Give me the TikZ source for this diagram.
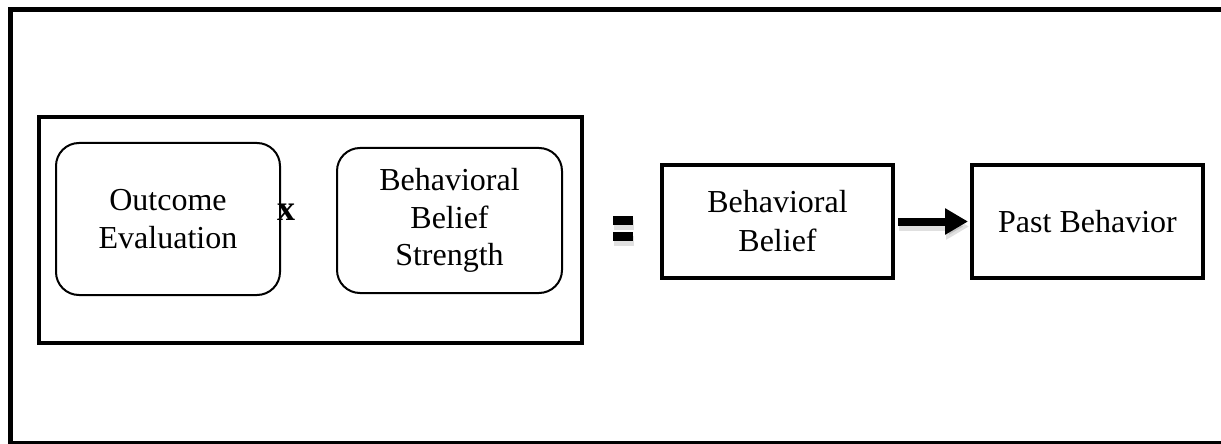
\documentclass[tikz,border=0pt]{standalone}
\usepackage{fontspec}
\setmainfont{Liberation Serif}
\usetikzlibrary{arrows.meta}
\begin{document}
\begin{tikzpicture}[x=0.5pt,y=-0.5pt,
  txt/.style={font=\fontsize{16}{18.8}\selectfont, align=center},
  rbox/.style={draw, line width=1pt, rounded corners=11.5pt, txt, inner sep=0pt},
  sbox/.style={draw, line width=2pt, txt, inner sep=0pt, minimum width=115.5pt, minimum height=56.5pt},
  shade/.style={fill=black, opacity=0.12},
  conn/.style={line width=4pt, -{Triangle[length=11.5pt,width=12.5pt]}},
]
\clip (0,0) rectangle (1221,444);
\fill[white] (0,0) rectangle (1221,444);
% outer frame
\draw[line width=2.5pt] (10.5,9.5) rectangle (1240,443.5);
% group box
\node[draw, line width=2pt, minimum width=271.5pt, minimum height=113pt, inner sep=0pt] (grp) at (310.5,230) {};
\node[rbox, minimum width=112pt, minimum height=76pt] (oe) at (168,219) {\raisebox{-2pt}{\parbox{100pt}{\centering Outcome\\Evaluation}}};
\node[rbox, minimum width=112.5pt, minimum height=72.5pt] (bbs) at (449.5,220.5) {\raisebox{-1.5pt}{\parbox{100pt}{\centering Behavioral\\Belief\\Strength}}};
\node[font=\fontsize{18}{18}\selectfont\bfseries, inner sep=0pt] (times) at (286,212.5) {x};
% equals sign
\coordinate (eq) at (623,228.5);
\fill[shade] (614,220) rectangle (634,230);
\fill[shade] (614,236) rectangle (634,246);
\fill (613,216) rectangle (633,225);
\fill (613,232) rectangle (633,241);
% right boxes
\node[sbox, font=\fontsize{16}{19.5}\selectfont] (bb) at (777.5,221.5) {Behavioral\\Belief};
\node[sbox] (pb) at (1087.5,221.5) {Past Behavior};
% arrow
\draw[conn, draw=black, opacity=0.12, fill opacity=0.12] ([xshift=2pt,yshift=-2.5pt]bb.east) -- ([xshift=-0.5pt,yshift=-2.5pt]pb.west);
\draw[conn] ([xshift=1.5pt]bb.east) -- ([xshift=-1pt]pb.west);
\end{tikzpicture}
\end{document}
